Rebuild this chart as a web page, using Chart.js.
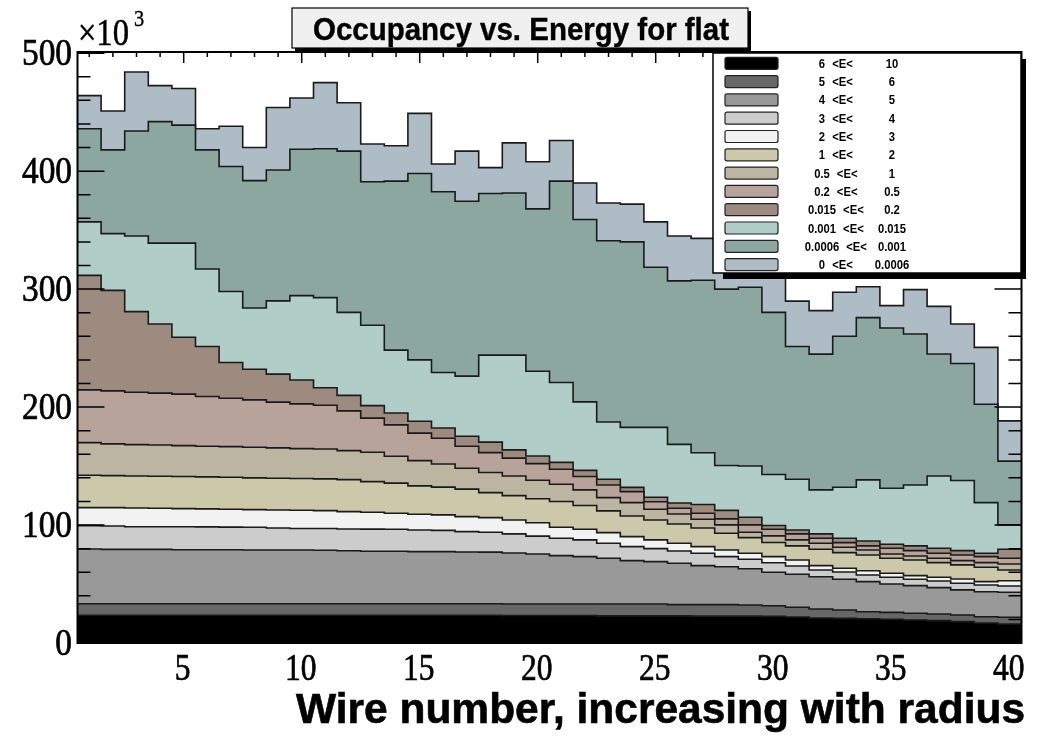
<!DOCTYPE html>
<html>
<head>
<meta charset="utf-8">
<title>Occupancy vs. Energy for flat</title>
<script src="https://cdn.jsdelivr.net/npm/chart.js@4.4.1/dist/chart.umd.min.js"></script>
<style>
  html, body { margin: 0; padding: 0; background: #fff; }
  #wrap { width: 1039px; height: 736px; }
</style>
</head>
<body>
<div id="wrap"><canvas id="occ" width="1039" height="736"></canvas></div>
<script>
// wire number = bin centre
const wires = [1, 2, 3, 4, 5, 6, 7, 8, 9, 10, 11, 12, 13, 14, 15, 16, 17, 18, 19, 20,
  21, 22, 23, 24, 25, 26, 27, 28, 29, 30, 31, 32, 33, 34, 35, 36, 37, 38, 39, 40];

// hits per wire in each energy band (x10^3), bottom of the stack first
const e6to10 = [23.5, 23.5, 23.5, 23.5, 23.5, 23.5, 23.5, 23.5, 23.5, 23.5,
  23.5, 23.5, 23.5, 23.5, 23.5, 23.5, 23.5, 23.5, 23.3, 23.3,
  23.3, 23.3, 23.0, 23.0, 23.0, 23.0, 22.8, 22.8, 22.8, 22.6,
  22.1, 21.2, 20.9, 20.5, 20.1, 19.5, 19.0, 18.1, 16.9, 16.1];
const e5to6 = [9.8, 9.8, 9.8, 9.8, 9.8, 9.8, 9.8, 9.8, 9.8, 9.8,
  9.8, 9.8, 9.8, 9.8, 9.8, 9.8, 9.8, 9.8, 9.8, 9.8,
  9.8, 9.8, 10.1, 10.1, 10.1, 9.5, 9.7, 9.7, 9.4, 9.0,
  8.2, 7.6, 7.1, 6.0, 5.9, 5.7, 5.6, 5.6, 5.4, 5.7];
const e4to5 = [46.4, 46.1, 46.1, 46.1, 45.8, 45.8, 45.8, 45.6, 45.6, 45.6,
  45.3, 44.9, 44.5, 44.5, 44.2, 44.2, 43.9, 43.7, 43.2, 42.4,
  41.0, 40.1, 38.7, 36.7, 35.9, 35.1, 33.1, 32.2, 30.8, 28.4,
  28.0, 27.4, 26.0, 25.5, 24.0, 23.4, 22.3, 21.3, 21.2, 21.2];
const e3to4 = [19.8, 19.8, 19.2, 19.2, 19.5, 19.3, 19.1, 19.2, 18.6, 18.1,
  18.4, 18.5, 18.7, 18.6, 18.3, 18.0, 17.2, 16.9, 16.2, 15.1,
  14.7, 14.2, 12.8, 11.9, 11.0, 10.4, 10.5, 8.5, 8.0, 8.0,
  7.0, 5.7, 6.2, 5.7, 5.7, 5.4, 5.7, 5.6, 5.7, 5.3];
const e2to3 = [15.3, 15.6, 15.9, 15.6, 15.3, 15.3, 15.2, 15.0, 15.3, 15.5,
  15.2, 14.7, 14.3, 13.6, 13.4, 13.1, 12.7, 12.4, 11.8, 11.4,
  9.3, 9.0, 9.0, 8.5, 7.4, 6.6, 5.6, 5.7, 5.1, 5.2,
  5.1, 3.7, 3.2, 3.6, 3.4, 3.1, 3.1, 3.7, 2.8, 4.5];
const e1to2 = [27.4, 27.1, 27.1, 27.2, 27.2, 27.1, 27.1, 26.9, 26.9, 26.9,
  26.9, 27.1, 26.0, 25.5, 24.0, 23.5, 23.3, 21.2, 20.6, 20.3,
  21.8, 20.1, 18.4, 17.5, 16.9, 16.3, 15.8, 14.1, 13.2, 12.0,
  11.9, 13.9, 13.2, 13.3, 12.7, 13.3, 12.4, 11.9, 12.2, 9.1];
const e05to1 = [27.7, 26.9, 26.6, 26.5, 26.2, 26.0, 26.0, 26.0, 25.7, 25.4,
  25.3, 24.6, 24.9, 22.8, 21.4, 19.7, 17.7, 17.0, 16.7, 15.7,
  14.7, 13.3, 11.2, 11.3, 9.1, 8.5, 7.4, 7.1, 4.6, 5.6,
  5.1, 5.1, 4.6, 4.3, 3.7, 3.4, 3.7, 3.6, 3.9, 5.1];
const e02to05 = [44.7, 44.9, 44.4, 43.9, 43.7, 42.1, 41.0, 40.1, 38.8, 37.9,
  37.1, 33.7, 28.9, 26.6, 23.3, 21.8, 18.7, 16.9, 15.1, 14.1,
  12.7, 11.3, 10.8, 9.3, 6.4, 4.8, 5.1, 5.1, 6.2, 5.6,
  5.1, 4.2, 3.9, 3.4, 4.8, 4.5, 4.3, 4.8, 5.1, 4.8];
const e0015to02 = [97.0, 85.2, 68.3, 58.6, 48.2, 42.5, 30.3, 26.0, 23.7, 20.3,
  14.9, 13.1, 10.6, 10.1, 10.1, 8.7, 8.5, 8.9, 7.0, 6.4,
  5.8, 5.2, 4.8, 3.6, 3.8, 4.5, 7.4, 7.2, 6.5, 3.2,
  3.3, 3.7, 3.7, 4.2, 3.4, 4.0, 4.2, 3.7, 2.9, 7.7];
const e0001to0015 = [45.4, 48.1, 64.1, 68.6, 79.8, 65.6, 60.2, 51.9, 62.1, 71.5,
  76.4, 70.4, 68.1, 53.3, 52.0, 47.0, 50.9, 73.7, 80.3, 71.9,
  67.7, 58.1, 48.6, 50.9, 59.2, 49.7, 43.9, 38.1, 43.4, 43.3,
  43.0, 37.3, 43.2, 51.8, 47.5, 51.7, 61.3, 59.4, 42.9, 20.6];
const e00006to0001 = [79.0, 71.0, 89.0, 103.0, 100.0, 101.0, 106.0, 108.0, 111.0, 124.0,
  126.2, 136.7, 121.7, 143.2, 158.0, 153.2, 148.3, 137.0, 137.5, 137.6,
  170.7, 154.6, 153.6, 157.2, 135.7, 138.6, 146.2, 149.5, 151.6, 137.4,
  112.6, 115.1, 128.0, 137.5, 135.8, 128.0, 103.4, 99.3, 83.4, 54.1];
const e0to00006 = [28.0, 33.0, 50.0, 30.5, 31.0, 18.0, 34.0, 28.0, 53.0, 43.5,
  56.0, 41.0, 32.0, 30.0, 51.0, 23.5, 42.5, 22.0, 42.5, 40.0,
  34.5, 31.0, 32.0, 32.0, 38.5, 38.0, 35.5, 38.0, 26.4, 39.7,
  38.4, 36.9, 37.3, 26.2, 19.0, 37.6, 40.4, 33.4, 48.2, 34.1];

const bandLow = ['6', '5', '4', '3', '2', '1', '0.5', '0.2', '0.015', '0.001', '0.0006', '0'];
const bandHigh = ['10', '6', '5', '4', '3', '2', '1', '0.5', '0.2', '0.015', '0.001', '0.0006'];
const bandColors = ['#000000', '#676767', '#999999', '#cccccc', '#f2f2f2', '#ccc8aa',
  '#bbb5a2', '#b8a39b', '#9c8b7e', '#b0cec7', '#8ba79f', '#adbcc5'];

const yTickLabels = [0, 100, 200, 300, 400, 500];
const xTickLabels = [5, 10, 15, 20, 25, 30, 35, 40];

const bands = [e6to10, e5to6, e4to5, e3to4, e2to3, e1to2, e05to1, e02to05,
  e0015to02, e0001to0015, e00006to0001, e0to00006];

// histogram outline: one point on each bin's low edge, plus the last high edge
function histPoints(vals) {
  const pts = wires.map((w, i) => ({ x: w - 0.5, y: vals[i] }));
  pts.push({ x: wires[wires.length - 1] + 0.5, y: vals[vals.length - 1] });
  return pts;
}

const datasets = bands.map((vals, i) => ({
  label: bandLow[i] + ' <E< ' + bandHigh[i],
  data: histPoints(vals),
  backgroundColor: bandColors[i],
  borderColor: '#1a1a1a',
  borderWidth: 1.6,
  fill: i === 0 ? 'origin' : '-1',
  stepped: 'before',
  pointRadius: 0,
  tension: 0
}));

// text with a horizontal squeeze; a thin stroke thickens it like the original
function squeezed(ctx, str, x, y, font, sx, align, heavy) {
  ctx.save();
  ctx.font = font;
  ctx.textAlign = align;
  ctx.textBaseline = 'alphabetic';
  ctx.translate(x, y);
  ctx.scale(sx, 1);
  ctx.fillText(str, 0, 0);
  if (heavy) {
    ctx.lineWidth = heavy;
    ctx.strokeStyle = ctx.fillStyle;
    ctx.strokeText(str, 0, 0);
  }
  ctx.restore();
}

function fitted(ctx, str, x, y, font, width, align, heavy) {
  ctx.save();
  ctx.font = font;
  const sx = width / ctx.measureText(str).width;
  ctx.restore();
  squeezed(ctx, str, x, y, font, sx, align, heavy);
}

const serif = '37px "Liberation Serif"';

const rootStyle = {
  id: 'rootStyle',
  afterDraw(chart) {
    const ctx = chart.ctx;
    const a = chart.chartArea;
    const xs = chart.scales.x;
    const ys = chart.scales.y;
    ctx.save();
    ctx.fillStyle = '#000';
    ctx.strokeStyle = '#000';

    // tick marks on all four sides, pointing inwards
    ctx.lineWidth = 1.5;
    ctx.beginPath();
    for (let v = 0; v <= 500; v += 20) {
      const y = ys.getPixelForValue(v);
      const len = v % 100 === 0 ? 27 : 13;
      ctx.moveTo(a.left, y); ctx.lineTo(a.left + len, y);
      ctx.moveTo(a.right, y); ctx.lineTo(a.right - len, y);
    }
    for (let w = 1; w <= 40; w++) {
      const x = xs.getPixelForValue(w);
      const len = w % 5 === 0 ? 11 : 5;
      ctx.moveTo(x, a.top); ctx.lineTo(x, a.top + len);
      ctx.moveTo(x, a.bottom); ctx.lineTo(x, a.bottom - len);
    }
    ctx.stroke();

    // frame
    ctx.lineWidth = 2;
    ctx.strokeRect(a.left, a.top, a.right - a.left, a.bottom - a.top);

    // axis labels
    yTickLabels.forEach(v => {
      squeezed(ctx, String(v), 72, ys.getPixelForValue(v) + 12, serif, 0.9, 'right', 0.7);
    });
    xTickLabels.forEach(v => {
      squeezed(ctx, String(v), xs.getPixelForValue(v) - 1, 680, serif, 0.85, 'center', 0.7);
    });
    squeezed(ctx, '\u00d710', 78, 45, serif, 0.88, 'left', 0.5);
    squeezed(ctx, '3', 134, 26, '24px "Liberation Serif"', 0.85, 'left', 0.4);
    fitted(ctx, 'Wire number, increasing with radius', 1025, 723, 'bold 42px "Liberation Sans"', 729, 'right', 0.6);

    // title box
    ctx.fillRect(295, 11, 456, 40);
    ctx.fillStyle = '#f0f0f0';
    ctx.fillRect(292, 8, 456, 40);
    ctx.lineWidth = 1.2;
    ctx.strokeRect(292, 8, 456, 40);
    ctx.fillStyle = '#000';
    fitted(ctx, 'Occupancy vs. Energy for flat', 521, 40, 'bold 31px "Liberation Sans"', 416, 'center', 0.4);

    // legend box
    const lx = 713, ly = 53, lw = 308, lh = 220;
    ctx.fillRect(lx + 10, ly + 6, lw - 5, lh);
    ctx.fillStyle = '#fff';
    ctx.fillRect(lx, ly, lw, lh);
    ctx.lineWidth = 1.5;
    ctx.strokeRect(lx, ly, lw, lh);
    const lfont = 'bold 12.5px "Liberation Sans"';
    chart.data.datasets.forEach((ds, i) => {
      const cy = 63.3 + 18.3 * i;
      ctx.fillStyle = ds.backgroundColor;
      ctx.beginPath();
      ctx.roundRect(725, cy - 6, 53, 12, 2);
      ctx.fill();
      ctx.lineWidth = 1.2;
      ctx.strokeStyle = '#222';
      ctx.stroke();
      ctx.fillStyle = '#000';
      ctx.font = lfont;
      const lo = bandLow[i], hi = bandHigh[i];
      const loW = ctx.measureText(lo).width * 0.9;
      const eW = ctx.measureText('<E<').width * 0.9;
      const hiW = ctx.measureText(hi).width * 0.9;
      const loLeft = 822 - loW / 2;
      const eLeft = loLeft + loW + 7;
      const hiLeft = Math.max(eLeft + eW + 11, 892 - hiW / 2);
      squeezed(ctx, lo, loLeft, cy + 4.5, lfont, 0.9, 'left');
      squeezed(ctx, '<E<', eLeft, cy + 4.5, lfont, 0.9, 'left');
      squeezed(ctx, hi, hiLeft, cy + 4.5, lfont, 0.9, 'left');
    });
    ctx.restore();
  }
};

new Chart(document.getElementById('occ'), {
  type: 'line',
  data: { datasets },
  options: {
    responsive: false,
    animation: false,
    events: [],
    layout: { padding: { left: 0, right: 17.5, top: 52, bottom: 0 } },
    plugins: { legend: { display: false }, tooltip: { enabled: false }, title: { display: false } },
    scales: {
      x: {
        type: 'linear',
        min: 0.5,
        max: 40.5,
        grid: { display: false, drawTicks: false },
        border: { display: false },
        ticks: { display: false },
        afterFit: s => { s.height = 93; }
      },
      y: {
        stacked: true,
        min: 0,
        max: 501,
        grid: { display: false, drawTicks: false },
        border: { display: false },
        ticks: { display: false, stepSize: 100 },
        afterFit: s => { s.width = 77.5; }
      }
    }
  },
  plugins: [rootStyle]
});
</script>
</body>
</html>
